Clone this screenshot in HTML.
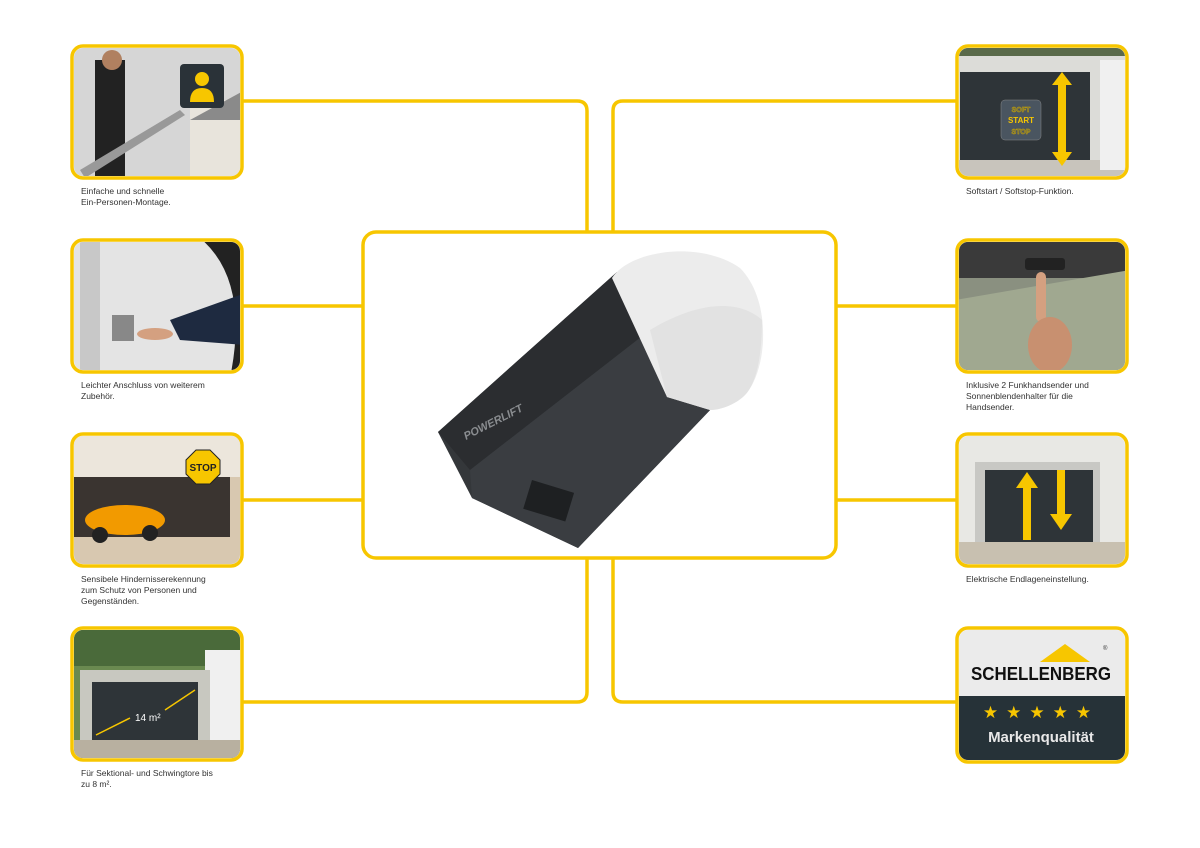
<!DOCTYPE html>
<html><head><meta charset="utf-8"><style>
html,body{margin:0;padding:0;background:#fff;}
body{width:1200px;height:848px;position:relative;overflow:hidden;font-family:"Liberation Sans",sans-serif;}
.cap{position:absolute;font-size:8.5px;line-height:11px;color:#333;}
</style></head><body>
<svg width="1200" height="848" viewBox="0 0 1200 848" style="position:absolute;left:0;top:0">
<defs>
<clipPath id="c1"><rect x="74" y="48" width="166" height="128" rx="9"/></clipPath>
<clipPath id="c2"><rect x="74" y="242" width="166" height="128" rx="9"/></clipPath>
<clipPath id="c3"><rect x="74" y="436" width="166" height="128" rx="9"/></clipPath>
<clipPath id="c4"><rect x="74" y="630" width="166" height="128" rx="9"/></clipPath>
<clipPath id="r1"><rect x="959" y="48" width="166" height="128" rx="9"/></clipPath>
<clipPath id="r2"><rect x="959" y="242" width="166" height="128" rx="9"/></clipPath>
<clipPath id="r3"><rect x="959" y="436" width="166" height="128" rx="9"/></clipPath>
<clipPath id="r4"><rect x="959" y="630" width="166" height="130" rx="9"/></clipPath>
</defs>
<g fill="none" stroke="#f7c600" stroke-width="3.5">
<path d="M242 101 H577 Q587 101 587 111 V232"/>
<path d="M957 101 H623 Q613 101 613 111 V232"/>
<path d="M242 306 H362"/><path d="M242 500 H362"/>
<path d="M836 306 H957"/><path d="M836 500 H957"/>
<path d="M242 702 H577 Q587 702 587 692 V558"/>
<path d="M957 702 H623 Q613 702 613 692 V558"/>
<rect x="363" y="232" width="473" height="326" rx="13"/>
</g>
<g clip-path="url(#c1)"><rect x="70" y="44" width="175" height="140" fill="#d6d6d6"/>
<rect x="190" y="100" width="55" height="80" fill="#e8e4dc"/><polygon points="190,120 245,90 245,120" fill="#8a8a8a"/>
<rect x="95" y="60" width="30" height="120" fill="#222"/><circle cx="112" cy="60" r="10" fill="#b08060"/>
<polygon points="80,170 180,110 185,115 85,178" fill="#999"/></g>
<rect x="180" y="64" width="44" height="44" rx="4" fill="#2a3238"/>
<circle cx="202" cy="79" r="7" fill="#f7c600"/><path d="M190 102 Q190 88 202 88 Q214 88 214 102Z" fill="#f7c600"/>
<g clip-path="url(#c2)"><rect x="70" y="238" width="175" height="140" fill="#e4e4e4"/>
<rect x="80" y="238" width="20" height="140" fill="#c8c8c8"/>
<path d="M200 238 Q250 280 230 378 L245 378 245 238Z" fill="#222"/>
<polygon points="170,320 240,295 245,345 180,340" fill="#1e2a40"/>
<rect x="112" y="315" width="22" height="26" fill="#888"/>
<ellipse cx="155" cy="334" rx="18" ry="6" fill="#d4a080"/></g>
<g clip-path="url(#c3)"><rect x="70" y="432" width="175" height="140" fill="#d8c8b0"/>
<rect x="70" y="432" width="175" height="45" fill="#ece6dc"/>
<rect x="70" y="477" width="160" height="60" fill="#3a3430"/>
<ellipse cx="125" cy="520" rx="40" ry="15" fill="#f29a00"/>
<circle cx="100" cy="535" r="8" fill="#222"/><circle cx="150" cy="533" r="8" fill="#222"/></g>
<polygon points="196,450 210,450 220,460 220,474 210,484 196,484 186,474 186,460" fill="#f7c600" stroke="#222" stroke-width="1"/>
<text x="203" y="471" font-size="10" font-weight="bold" text-anchor="middle" fill="#222">STOP</text>
<g clip-path="url(#c4)"><rect x="70" y="626" width="175" height="140" fill="#6a8a50"/>
<rect x="70" y="626" width="175" height="40" fill="#4a6a3a"/>
<rect x="205" y="650" width="40" height="100" fill="#f0f0f0"/>
<rect x="80" y="670" width="130" height="70" fill="#c8c8c0"/>
<rect x="92" y="682" width="106" height="58" fill="#2e3438"/>
<rect x="70" y="740" width="175" height="26" fill="#b8b0a0"/>
<line x1="96" y1="735" x2="130" y2="718" stroke="#f7c600" stroke-width="1.5"/>
<line x1="165" y1="710" x2="195" y2="690" stroke="#f7c600" stroke-width="1.5"/>
<text x="135" y="721" font-size="10" fill="#fff">14 m²</text></g>
<g clip-path="url(#r1)"><rect x="955" y="44" width="175" height="140" fill="#dcdcd8"/>
<rect x="955" y="44" width="175" height="12" fill="#5a6a4a"/>
<rect x="960" y="72" width="130" height="88" fill="#2e3438"/>
<rect x="955" y="160" width="175" height="20" fill="#c8c4bc"/>
<rect x="1100" y="60" width="30" height="110" fill="#f0f0f0"/></g>
<rect x="1001" y="100" width="40" height="40" rx="4" fill="#4a5560" stroke="#888" stroke-width="0.5"/>
<text x="1021" y="112" font-size="7" font-weight="bold" text-anchor="middle" fill="none" stroke="#c9a400" stroke-width="0.5">SOFT</text>
<text x="1021" y="123" font-size="8" font-weight="bold" text-anchor="middle" fill="#f7c600">START</text>
<text x="1021" y="134" font-size="7" font-weight="bold" text-anchor="middle" fill="none" stroke="#c9a400" stroke-width="0.5">STOP</text>
<polygon points="1062,72 1072,85 1066,85 1066,152 1072,152 1062,166 1052,152 1058,152 1058,85 1052,85" fill="#f7c600"/>
<g clip-path="url(#r2)"><rect x="955" y="238" width="175" height="140" fill="#8a9080"/>
<rect x="955" y="238" width="175" height="40" fill="#3a3a3a"/>
<polygon points="955,300 1130,270 1130,378 955,378" fill="#a0a890"/>
<rect x="1025" y="258" width="40" height="12" rx="3" fill="#222"/>
<rect x="1036" y="272" width="10" height="50" rx="5" fill="#d4a080"/>
<ellipse cx="1050" cy="345" rx="22" ry="28" fill="#c89070"/></g>
<g clip-path="url(#r3)"><rect x="955" y="432" width="175" height="140" fill="#e8e8e4"/>
<rect x="975" y="462" width="125" height="80" fill="#c8c8c4"/>
<rect x="985" y="470" width="108" height="72" fill="#2e3438"/>
<rect x="955" y="542" width="175" height="30" fill="#c8c0b0"/></g>
<polygon points="1027,472 1038,488 1031,488 1031,540 1023,540 1023,488 1016,488" fill="#f7c600"/>
<polygon points="1061,530 1072,514 1065,514 1065,470 1057,470 1057,514 1050,514" fill="#f7c600"/>
<g clip-path="url(#r4)"><rect x="955" y="626" width="175" height="70" fill="#ebebeb"/>
<rect x="955" y="696" width="175" height="70" fill="#263238"/></g>
<polygon points="1040,662 1065,644 1090,662" fill="#f7c600"/>
<text x="1103" y="650" font-size="6" fill="#333">®</text>
<text x="1041" y="680" font-size="18" font-weight="bold" text-anchor="middle" fill="#111" textLength="140" lengthAdjust="spacingAndGlyphs">SCHELLENBERG</text>
<text x="1041" y="718" font-size="17" text-anchor="middle" fill="#f7c600" letter-spacing="8">★★★★★</text>
<text x="1041" y="742" font-size="15" font-weight="bold" text-anchor="middle" fill="#e8e8e8">Markenqualität</text>
<g fill="none" stroke="#f7c600" stroke-width="3.5">
<rect x="72" y="46" width="170" height="132" rx="11"/><rect x="72" y="240" width="170" height="132" rx="11"/>
<rect x="72" y="434" width="170" height="132" rx="11"/><rect x="72" y="628" width="170" height="132" rx="11"/>
<rect x="957" y="46" width="170" height="132" rx="11"/><rect x="957" y="240" width="170" height="132" rx="11"/>
<rect x="957" y="434" width="170" height="132" rx="11"/><rect x="957" y="628" width="170" height="134" rx="11"/>
</g>
<polygon points="438,432 617,272 712,408 578,548 472,498" fill="#34373a"/>
<polygon points="438,432 617,272 650,330 470,470" fill="#2b2d30"/>
<polygon points="470,470 650,330 712,408 578,548 472,498" fill="#3a3d41"/>
<path d="M612,278 C630,250 700,240 740,268 C772,300 768,370 745,395 C735,405 720,410 710,410 L667,397 Z" fill="#ececec"/>
<path d="M650,330 C700,300 740,300 762,320 C762,360 755,385 745,395 C735,405 720,410 710,410 L667,397 Z" fill="#e2e2e2"/>
<text x="0" y="0" font-size="11" font-weight="bold" font-style="italic" fill="#8a8d90" transform="translate(466,440) rotate(-27)">POWERLIFT</text>
<rect x="0" y="0" width="44" height="30" fill="#1e2022" transform="translate(532,480) rotate(17)"/>
</svg>
<div class="cap" style="left:81px;top:186px">Einfache und schnelle<br>Ein-Personen-Montage.</div>
<div class="cap" style="left:81px;top:380px">Leichter Anschluss von weiterem<br>Zubehör.</div>
<div class="cap" style="left:81px;top:574px">Sensibele Hindernisserekennung<br>zum Schutz von Personen und<br>Gegenständen.</div>
<div class="cap" style="left:81px;top:768px">Für Sektional- und Schwingtore bis<br>zu 8 m².</div>
<div class="cap" style="left:966px;top:186px">Softstart / Softstop-Funktion.</div>
<div class="cap" style="left:966px;top:380px">Inklusive 2 Funkhandsender und<br>Sonnenblendenhalter für die<br>Handsender.</div>
<div class="cap" style="left:966px;top:574px">Elektrische Endlageneinstellung.</div>
</body></html>
